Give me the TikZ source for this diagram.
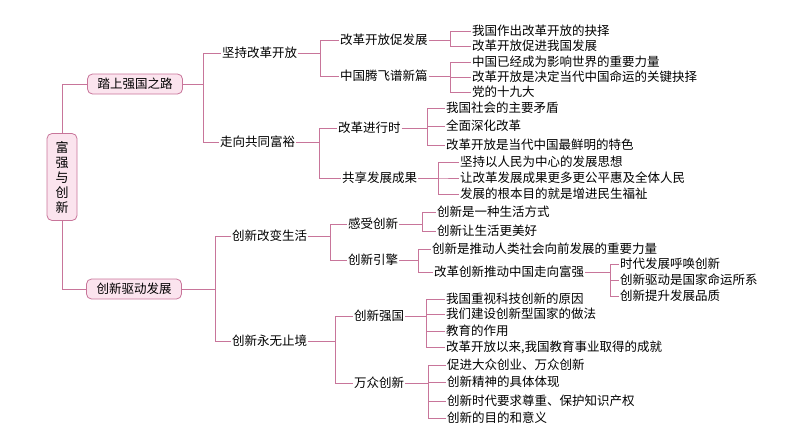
\documentclass[tikz,border=0pt]{standalone}
\usepackage{fontspec}
\setmainfont{Noto Sans CJK SC}
\begin{document}
\begin{tikzpicture}[x=1pt,y=-1pt,
  ln/.style={draw=lnc,line width=0.8pt},
  t/.style={anchor=west,inner sep=1pt,font=\fontsize{12.5}{14}\selectfont},
  bx/.style={draw=lnc,fill=boxf,rounded corners=5pt,line width=0.8pt,inner sep=2pt,font=\fontsize{12.5}{14}\selectfont}]
\definecolor{lnc}{HTML}{C8759A}
\definecolor{boxf}{HTML}{FBE4EE}
\useasboundingbox (0,0) rectangle (794,447);
\newcommand\brk[3]{\coordinate (tmpx) at (#2,0);
  \foreach \c in {#3} {\draw[ln] (#1.east) -- (#1.east -| tmpx) |- (\c.west);}}
% root
\node[bx,minimum width=30pt,minimum height=87pt,text width=13pt,align=center,font=\fontsize{13}{15}\selectfont] (r) at (62,177) {富\\强\\与\\创\\新};
\node[bx,minimum width=95pt,minimum height=20pt] (a) at (135,84) {踏上强国之路};
\node[bx,minimum width=95pt,minimum height=20pt] (b) at (134,289) {创新驱动发展};
\draw[ln] (r.north) |- (a.west);
\draw[ln] (r.south) |- (b.west);
% level 2
\node[t] (a1) at (221,53) {坚持改革开放};
\node[t] (a2) at (219,142) {走向共同富裕};
\node[t] (b1) at (231,236) {创新改变生活};
\node[t] (b2) at (231,341) {创新永无止境};
\brk{a}{203}{a1,a2}
\brk{b}{215}{b1,b2}
% level 3
\node[t] (a11) at (339,40) {改革开放促发展};
\node[t] (a12) at (339,76) {中国腾飞谱新篇};
\node[t] (a21) at (337,128) {改革进行时};
\node[t] (a22) at (341,178) {共享发展成果};
\node[t] (b11) at (347,224) {感受创新};
\node[t] (b12) at (347,260) {创新引擎};
\node[t] (b21) at (353,316) {创新强国};
\node[t] (b22) at (353,383) {万众创新};
\brk{a1}{320}{a11,a12}
\brk{a2}{319}{a21,a22}
\brk{b1}{330}{b11,b12}
\brk{b2}{335}{b21,b22}
% level 4
\node[t] (c1) at (471,31) {我国作出改革开放的抉择};
\node[t] (c2) at (471,46) {改革开放促进我国发展};
\brk{a11}{450}{c1,c2}
\node[t] (c3) at (471,62) {中国已经成为影响世界的重要力量};
\node[t] (c4) at (471,77) {改革开放是决定当代中国命运的关键抉择};
\node[t] (c5) at (471,92) {党的十九大};
\brk{a12}{450}{c3,c4,c5}
\node[t] (c6) at (445,108) {我国社会的主要矛盾};
\node[t] (c7) at (445,126) {全面深化改革};
\node[t] (c8) at (445,145) {改革开放是当代中国最鲜明的特色};
\brk{a21}{427}{c6,c7,c8}
\node[t] (c9) at (459,162) {坚持以人民为中心的发展思想};
\node[t] (c10) at (459,178) {让改革发展成果更多更公平惠及全体人民};
\node[t] (c11) at (459,194) {发展的根本目的就是增进民生福祉};
\brk{a22}{438}{c9,c10,c11}
\node[t] (d1) at (436,212) {创新是一种生活方式};
\node[t] (d2) at (436,231) {创新让生活更美好};
\brk{b11}{422}{d1,d2}
\node[t] (d3) at (431,249) {创新是推动人类社会向前发展的重要力量};
\node[t] (d4) at (433,272) {改革创新推动中国走向富强};
\brk{b12}{418}{d3,d4}
\node[t] (e1) at (619,264) {时代发展呼唤创新};
\node[t] (e2) at (619,280) {创新驱动是国家命运所系};
\node[t] (e3) at (619,296) {创新提升发展品质};
\brk{d4}{610}{e1,e2,e3}
\node[t] (f1) at (445,299) {我国重视科技创新的原因};
\node[t] (f2) at (445,314) {我们建设创新型国家的做法};
\node[t] (f3) at (445,331) {教育的作用};
\node[t] (f4) at (445,347) {改革开放以来,我国教育事业取得的成就};
\brk{b21}{426}{f1,f2,f3,f4}
\node[t] (g1) at (446,365) {促进大众创业、万众创新};
\node[t] (g2) at (446,382) {创新精神的具体体现};
\node[t] (g3) at (446,401) {创新时代要求尊重、保护知识产权};
\node[t] (g4) at (446,418) {创新的目的和意义};
\brk{b22}{428}{g1,g2,g3,g4}
\end{tikzpicture}
\end{document}
